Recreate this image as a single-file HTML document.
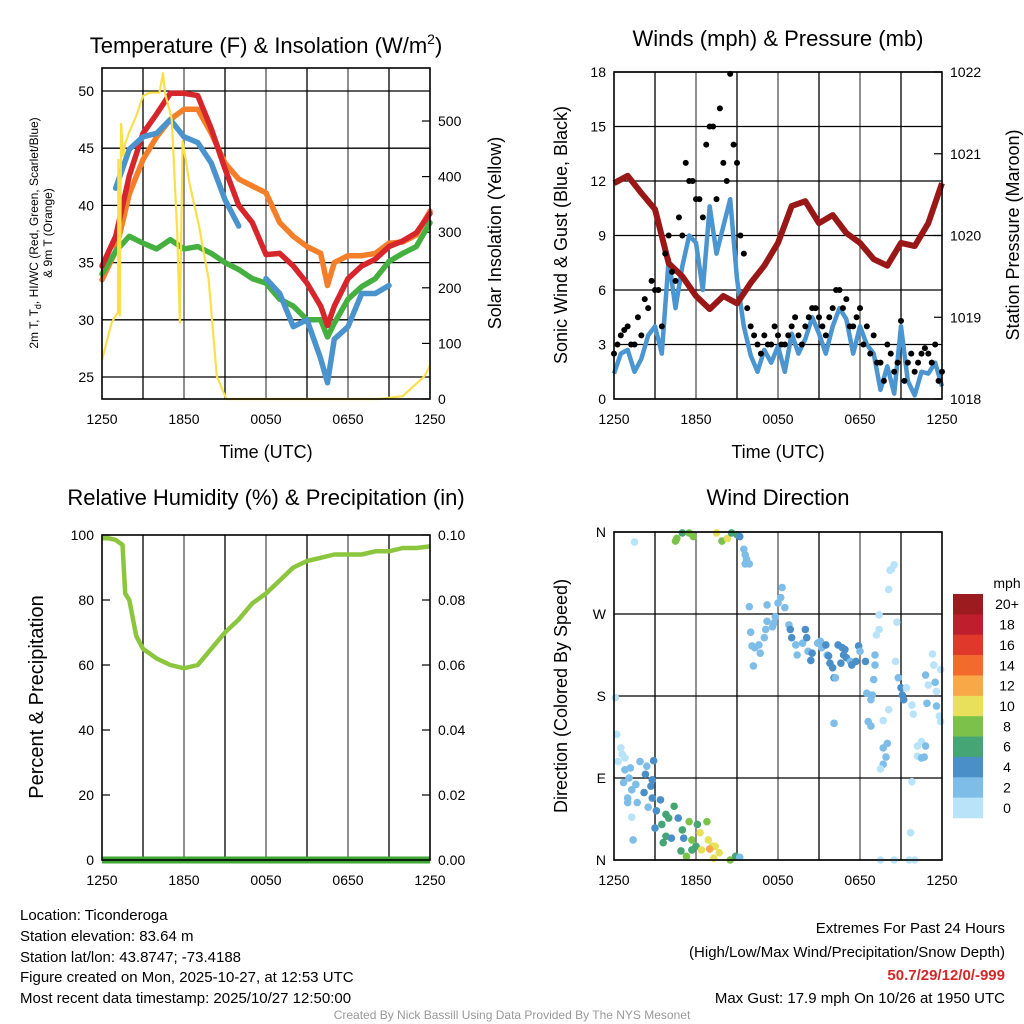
<!DOCTYPE html>
<html><head><meta charset="utf-8">
<style>
html,body{margin:0;padding:0;background:#fff;}
svg{display:block;font-family:"Liberation Sans",Arial,sans-serif;}
</style></head>
<body>
<svg id="root" width="1024" height="1024" viewBox="0 0 1024 1024" xmlns="http://www.w3.org/2000/svg">
  <rect width="1024" height="1024" fill="#fff"/>
  <text x="266" y="53" font-size="22" text-anchor="middle">Temperature (F) &amp; Insolation (W/m<tspan font-size="14" dy="-9">2</tspan><tspan dy="9">)</tspan></text>
  <text x="778" y="46" font-size="22" text-anchor="middle">Winds (mph) &amp; Pressure (mb)</text>
  <text x="266" y="505" font-size="22" text-anchor="middle">Relative Humidity (%) &amp; Precipitation (in)</text>
  <text x="778" y="505" font-size="22" text-anchor="middle">Wind Direction</text>
  <text x="266" y="458" font-size="18" text-anchor="middle">Time (UTC)</text>
  <text x="778" y="458" font-size="18" text-anchor="middle">Time (UTC)</text>
  <text transform="translate(38,233) rotate(-90)" font-size="12" text-anchor="middle">2m T, T<tspan font-size="9" dy="3">d</tspan><tspan dy="-3">, HI/WC (Red, Green, Scarlet/Blue)</tspan></text>
  <text transform="translate(52,233) rotate(-90)" font-size="12" text-anchor="middle">&amp; 9m T (Orange)</text>
  <text transform="translate(501,233) rotate(-90)" font-size="18" text-anchor="middle">Solar Insolation (Yellow)</text>
  <text transform="translate(567,235) rotate(-90)" font-size="18" text-anchor="middle">Sonic Wind &amp; Gust (Blue, Black)</text>
  <text transform="translate(1019,235) rotate(-90)" font-size="18" text-anchor="middle">Station Pressure (Maroon)</text>
  <text transform="translate(43,697) rotate(-90)" font-size="20" text-anchor="middle">Percent &amp; Precipitation</text>
  <text transform="translate(567,696) rotate(-90)" font-size="18" text-anchor="middle">Direction (Colored By Speed)</text>
  <g id="charts"></g>
  <g font-size="15">
    <text x="20" y="920">Location: Ticonderoga</text>
    <text x="20" y="941">Station elevation: 83.64 m</text>
    <text x="20" y="962">Station lat/lon: 43.8747; -73.4188</text>
    <text x="20" y="982">Figure created on Mon, 2025-10-27, at 12:53 UTC</text>
    <text x="20" y="1003">Most recent data timestamp: 2025/10/27 12:50:00</text>
  </g>
  <g font-size="15" text-anchor="end">
    <text x="1005" y="933">Extremes For Past 24 Hours</text>
    <text x="1005" y="957">(High/Low/Max Wind/Precipitation/Snow Depth)</text>
    <text x="1005" y="980" fill="#d62728" font-weight="bold">50.7/29/12/0/-999</text>
    <text x="1005" y="1003">Max Gust: 17.9 mph On 10/26 at 1950 UTC</text>
  </g>
  <text x="512" y="1019" font-size="12" fill="#999" text-anchor="middle">Created By Nick Bassill Using Data Provided By The NYS Mesonet</text>
</svg>
<script>
// ---------- data ----------
const tempHours = [0,1,2,3,4,5,6,7,8,9,10,11,12,13,14,15,16,16.5,17,18,19,20,21,22,23,24];
const tempRed = [34.7,37.3,42.6,46.3,48,49.8,49.8,49.6,46.7,43.2,40,38.5,35.7,35.8,34.7,33.2,31.2,29.5,31.2,33.6,34.7,35.3,36.4,36.9,37.6,39.3];
const temp9mOrange = [33.5,36,41,44,46,47.5,48.4,48.4,46.3,43.7,42.3,41.7,41.1,38.5,37.3,36.4,35.8,33,35,35.6,35.6,35.8,36.7,36.8,37.4,39.5];
const heatIndexBlue = [null,41.5,44.9,46,46.3,47.5,46,45.5,43.7,40.5,38.2,null,33.6,32.3,29.4,30,26.6,24.5,28.3,29.4,32.3,32.3,33,null,null,null];
const dewpointGreen = [34,36,37.3,36.7,36.2,37,36.2,36.4,35.8,35,34.4,33.6,33.2,31.8,31.2,30,30,28.5,29.7,31.8,32.9,33.6,35.1,35.8,36.4,38.5];
const solarHours = [0,0.7,1.0,1.17,1.2,1.3,1.4,1.55,1.7,2.0,2.5,3.0,3.5,4.2,4.46,4.6,5.1,5.5,5.7,5.9,6.4,7.1,7.8,8.4,9.1,20.25,22,23.6,24];
const solarValues = [70,137,150,155,430,150,495,437,460,480,509,545,551,551,586,551,504,300,137,464,388,311,216,41,0,0,5,41,60];

const windHours = [0,0.5,1,1.5,2,2.5,3,3.5,4,4.5,5,5.5,6,6.5,7,7.5,8,8.5,9,9.5,10,10.5,11,11.5,12,12.5,13,13.5,14,14.5,15,15.5,16,16.5,17,17.5,18,18.5,19,19.5,20,20.5,21,21.5,22,22.5,23,23.5,24];
const windSpeed = [1.4,2.5,2.7,1.5,2.2,3.5,4.0,2.5,7.7,5,7.3,9,8.6,6,10.6,8,9.5,11,6.6,4,2.4,1.5,2.7,2,2.9,1.5,3.6,2.5,3.3,4.5,3.6,2.5,4.0,5,4.4,2.5,4.0,3,2.5,0.5,1.8,0.3,4.0,1,0.2,1.5,1.4,2,0.7];
const gustA = [2.5,3.5,4,3,3.5,5,6,4,9,6.5,9,12,11,10,15,11,13,17.9,13,8,4,3,3.5,3,3.5,3,4,3.5,4,5,4.5,3.5,5,6,5.5,4,5,4,3.5,2,3,1.5,4.3,2,1.5,2.5,2.5,3,1.5];
const gustHoursB = [0.25,0.75,1.25,1.75,2.25,2.75,3.25,3.75,4.25,4.75,5.25,5.75,6.25,6.75,7.25,7.75,8.25,8.75,9.25,9.75,10.25,10.75,11.25,11.75,12.25,12.75,13.25,13.75,14.25,14.75,15.25,15.75,16.25,16.75,17.25,17.75,18.25,18.75,19.25,19.75,20.25,20.75,21.25,21.75,22.25,22.75,23.25,23.75];
const gustB = [3,3.8,3,4.5,5.5,6.5,6,8,7,10,13,12,11,14,15,16,12,14,9,5,3.5,2.5,3,4,3,3.5,4.5,3,4.5,5,4,4.5,6,5,4,4.5,3,2.5,2,1,2.5,2,1,2.5,2,2.8,2,1];
const pressureHours = [0,1,2,3,4,5,6,7,8,9,10,11,12,13,14,15,16,17,18,19,20,21,22,23,24];
const pressureMb = [1020.64,1020.73,1020.52,1020.32,1019.66,1019.5,1019.26,1019.1,1019.26,1019.17,1019.42,1019.63,1019.91,1020.36,1020.42,1020.15,1020.25,1020.03,1019.91,1019.71,1019.63,1019.91,1019.87,1020.15,1020.64];

const rhHours = [0,0.5,1,1.5,1.7,2,2.5,3,4,5,6,7,8,9,10,11,12,13,14,15,16,17,18,19,20,21,22,23,24];
const rhValues = [99,99,98.5,97,82,80,69,65,62,60,59,60,65,70,74,79,82,86,90,92,93,94,94,94,95,95,96,96,96.5];
const precipHours = [0,24];
const precipValues = [0,0];

const dirHours = [0.1,0.2,0.5,0.6,0.8,0.3,0.8,1.2,1.9,2.4,2.9,2.3,2.8,1.1,0.7,1.6,1.3,2.7,2.2,1.0,1.0,1.7,2.8,3.4,2.5,3.1,1.3,1.4,3.8,4.4,4.0,4.7,3.5,3.0,3.8,4.2,5.1,5.0,5.5,6.1,6.8,5.7,6.3,6.9,6.0,6.4,7.2,7.4,7.0,7.7,7.3,5.7,4.9,3.6,5.3,8.5,8.9,9.2,
1.5,4.5,4.6,5.0,5.5,5.8,7.5,7.9,8.3,8.6,9.0,9.2,9.5,9.6,9.7,9.6,9.9,
9.9,10.0,10.1,10.3,10.6,10.7,10.2,11.0,11.1,11.2,11.6,11.7,11.8,11.2,12.0,12.3,12.2,12.5,12.8,12.9,13.0,13.3,13.4,13.8,14.0,14.1,14.2,14.5,14.4,14.9,15.1,15.2,15.5,15.6,15.7,15.8,16.0,16.1,16.2,16.1,16.4,16.7,16.8,16.9,16.6,17.0,17.3,17.4,17.7,17.9,18.0,18.4,19.1,19.1,19.0,18.5,18.9,18.8,18.6,18.8,19.4,19.4,19.2,20.1,20.3,20.5,20.2,20.7,20.6,20.8,21.0,21.1,21.2,21.4,21.8,21.9,20.1,19.7,20.0,19.7,19.9,19.7,19.5,22.8,23.0,22.9,23.3,23.4,23.5,23.6,23.6,23.8,23.9,23.9,22.2,22.5,22.8,22.2,22.5,22.7,21.8,21.7,19.5,20.5,21.6,22.0];
const dirDegrees = [178,138,123,116,112,108,99,101,108,103,109,94,88,90,85,83,77,81,74,68,63,63,68,66,58,54,47,22,50,59,46,46,39,35,26,24,24,33,42,39,42,22,30,22,15,11,15,15,12,8,2,11,10,19,4,0,4,3,
349,350,353,359,359,355,359,350,353,359,357,355,341,335,330,325,325,
278,250,235,233,236,227,213,244,253,262,256,260,267,280,282,299,288,277,258,253,244,236,225,238,253,244,229,227,219,238,240,233,236,225,224,216,211,200,200,150,236,233,225,231,216,222,218,214,218,235,229,218,225,214,198,183,181,176,152,147,269,253,247,297,319,324,318,261,218,200,189,181,176,189,170,160,165,153,128,123,113,105,100,203,192,172,226,214,195,185,169,158,152,209,125,130,125,114,112,113,86,30,0,0,0,0];
const dirSpeeds = [1,1,0,0,1,0,2,2,2,2,4,4,4,2,2,2,2,4,4,2,2,2,4,4,2,5,1,2,7,7,6,5,6,4,6,4,4,6,8,6,8,8,10,10,7,10,10,11,13,10,10,6,6,6,8,8,6,2,
1,8,8,6,8,8,10,8,10,7,6,4,2,2,2,2,2,
2,2,2,2,2,2,2,3,2,2,2,2,2,2,2,2,2,2,2,4,4,2,2,2,4,4,2,4,4,2,2,2,4,2,4,4,4,4,2,2,4,4,4,4,4,4,2,4,4,4,2,4,2,2,2,2,2,2,2,2,1,1,1,1,0,0,0,1,1,3,4,4,4,1,1,1,1,1,2,2,2,2,1,2,1,2,1,1,3,1,2,1,1,1,1,1,3,1,2,2,1,1,1,1,1,1];
const speedLabels = ["20+","18","16","14","12","10","8","6","4","2","0"];
const speedColors = ["#9b1b1f","#bf1e2d","#e0392b","#f26a2c","#f9a847","#e8e05a","#7cc24a","#45a574","#4a8fc7","#7ebde8","#b9e3f8"];
const timeTickLabels = ["1250","1850","0050","0650","1250"];
const tempTicks = [25,30,35,40,45,50];
const solarTicks = [0,100,200,300,400,500];
const windTicks = [0,3,6,9,12,15,18];
const pressureTicks = [1018,1019,1020,1021,1022];
const rhTicks = [0,20,40,60,80,100];
const precipTicks = ["0.00","0.02","0.04","0.06","0.08","0.10"];
const dirTicks = ["N","E","S","W","N"];

// ---------- helpers ----------
const NS = "http://www.w3.org/2000/svg";
const root = document.getElementById('charts');
function mk(tag, attrs, parent) {
  const e = document.createElementNS(NS, tag);
  for (const k in attrs) e.setAttribute(k, attrs[k]);
  (parent || root).appendChild(e);
  return e;
}
function lin(d0, d1, r0, r1) { return v => r0 + (v - d0) * (r1 - r0) / (d1 - d0); }
function pathFrom(xs, ys, fx, fy) {
  let d = "", pen = false;
  for (let i = 0; i < xs.length; i++) {
    if (ys[i] === null || ys[i] === undefined) { pen = false; continue; }
    d += (pen ? "L" : "M") + fx(xs[i]).toFixed(1) + " " + fy(ys[i]).toFixed(1);
    pen = true;
  }
  return d;
}
function frame(p, name) {
  const g = mk('g', {});
  
  
  for (let h = 3; h < 24; h += 3) {
    const x = p.fx(h);
    const l = mk('line', {x1: x, x2: x, y1: p.y0, y2: p.y1, stroke: (h % 6 === 0) ? '#555' : '#000', 'stroke-width': 1.3}, g);
    
    
  }
  timeTickLabels.forEach((t, i) => {
    const x = p.fx(i * 6);
    const tx = mk('text', {x: x, y: p.y1 + 25, 'font-size': 14, 'text-anchor': 'middle'}, g);
    tx.textContent = t;
    
    
  });
  return g;
}
function hGrid(g, p, ys, fy, labels, side) {
  ys.forEach((v, i) => {
    const y = fy(v);
    const l = mk('line', {x1: p.x0, x2: p.x1, y1: y, y2: y, stroke: '#000', 'stroke-width': 1.3}, g);
    
    
    const tx = mk('text', {x: side === 'left' ? p.x0 - 8 : p.x1 + 8, y: y + 5, 'font-size': 14, 'text-anchor': side === 'left' ? 'end' : 'start'}, g);
    tx.textContent = labels[i];
    
    
  });
}
function ticksOnly(g, p, ys, fy, labels, side) {
  ys.forEach((v, i) => {
    const y = fy(v);
    const x = side === 'left' ? p.x0 : p.x1;
    mk('line', {x1: x, x2: side === 'left' ? x + 8 : x - 8, y1: y, y2: y, stroke: '#000', 'stroke-width': 1.2}, g);
    const tx = mk('text', {x: side === 'left' ? p.x0 - 8 : p.x1 + 8, y: y + 5, 'font-size': 14, 'text-anchor': side === 'left' ? 'end' : 'start'}, g);
    tx.textContent = labels[i];
    
    
  });
}
function border(p, name) {
  const r = mk('rect', {x: p.x0, y: p.y0, width: p.x1 - p.x0, height: p.y1 - p.y0, fill: 'none', stroke: '#000', 'stroke-width': 1.6});
  
  
}

// ---------- panel 1: temperature ----------
(function () {
  const p = {x0: 102, x1: 430, y0: 68, y1: 399};
  p.fx = lin(0, 24, p.x0, p.x1);
  const fT = lin(25, 50, 377, 91);
  const fS = lin(0, 500, 399, 121);
  const g = frame(p, 'temperature-panel');
  hGrid(g, p, tempTicks, fT, tempTicks, 'left');
  ticksOnly(g, p, solarTicks, fS, solarTicks, 'right');
  const series = [
    [temp9mOrange, '#f47f2a', 'orange-9m-temp-line'],
    [dewpointGreen, '#45b040', 'green-dewpoint-line'],
    [tempRed, '#d7262b', 'red-2m-temp-line'],
    [heatIndexBlue, '#4a93cc', 'blue-wind-chill-line']
  ];
  series.forEach(s => {
    const e = mk('path', {d: pathFrom(tempHours, s[0], p.fx, fT), fill: 'none', stroke: s[1], 'stroke-width': 5.5, 'stroke-linejoin': 'round', 'stroke-linecap': 'round'});
    
    
  });
  const sl = mk('path', {d: pathFrom(solarHours, solarValues, p.fx, fS), fill: 'none', stroke: '#f9e04b', 'stroke-width': 2.2, 'stroke-linejoin': 'round'});
  
  
  border(p, 'temperature-plot-frame');
})();

// ---------- panel 2: winds ----------
(function () {
  const p = {x0: 614, x1: 942, y0: 72, y1: 399};
  p.fx = lin(0, 24, p.x0, p.x1);
  const fW = lin(0, 18, 399, 72);
  const fP = lin(1018, 1022, 399, 72);
  const g = frame(p, 'winds-panel');
  hGrid(g, p, windTicks, fW, windTicks, 'left');
  ticksOnly(g, p, pressureTicks, fP, pressureTicks, 'right');
  const w = mk('path', {d: pathFrom(windHours, windSpeed, p.fx, fW), fill: 'none', stroke: '#4b95d0', 'stroke-width': 4.5, 'stroke-linejoin': 'round'});
  
  
  const pr = mk('path', {d: pathFrom(pressureHours, pressureMb, p.fx, fP), fill: 'none', stroke: '#9a1717', 'stroke-width': 6, 'stroke-linejoin': 'round'});
  
  
  windHours.forEach((h, i) => {
    const c = mk('circle', {cx: p.fx(h), cy: fW(gustA[i]), r: 3, fill: '#000'});
    
    
  });
  gustHoursB.forEach((h, i) => {
    const c = mk('circle', {cx: p.fx(h), cy: fW(gustB[i]), r: 3, fill: '#000'});
    
    
  });
  border(p, 'winds-plot-frame');
})();

// ---------- panel 3: humidity ----------
(function () {
  const p = {x0: 102, x1: 430, y0: 535, y1: 860};
  p.fx = lin(0, 24, p.x0, p.x1);
  const fR = lin(0, 100, 860, 535);
  const fPr = lin(0, 0.1, 860, 535);
  const g = frame(p, 'humidity-panel');
  ticksOnly(g, p, rhTicks, fR, rhTicks, 'left');
  ticksOnly(g, p, rhTicks, fR, precipTicks, 'right');
  const r = mk('path', {d: pathFrom(rhHours, rhValues, p.fx, fR), fill: 'none', stroke: '#8cc63f', 'stroke-width': 4.5, 'stroke-linejoin': 'round'});
  
  
  const pc = mk('path', {d: pathFrom(precipHours, precipValues, p.fx, fPr), fill: 'none', stroke: '#3fa535', 'stroke-width': 7});
  
  
  border(p, 'humidity-plot-frame');
})();

// ---------- panel 4: wind direction ----------
(function () {
  const p = {x0: 614, x1: 942, y0: 532, y1: 860};
  p.fx = lin(0, 24, p.x0, p.x1);
  const fD = lin(0, 360, 860, 532);
  const g = frame(p, 'wind-direction-panel');
  hGrid(g, p, [0, 90, 180, 270, 360], fD, dirTicks, 'left');
  dirHours.forEach((h, i) => {
    const bin = Math.min(10, Math.floor(dirSpeeds[i] / 2));
    const c = mk('circle', {cx: p.fx(h), cy: fD(dirDegrees[i]), r: 3.8, fill: speedColors[10 - bin]});
    
    
  });
  border(p, 'direction-plot-frame');
  const cb = mk('g', {});
  
  
  const t = mk('text', {x: 1007, y: 588, 'font-size': 14, 'text-anchor': 'middle'}, cb);
  t.textContent = 'mph';
  
  
  const bh = (818 - 594) / speedLabels.length;
  speedLabels.forEach((lab, i) => {
    const y = 594 + i * bh;
    const b = mk('rect', {x: 953, y: y, width: 30, height: bh + 0.3, fill: speedColors[i]}, cb);
    
    
    const tx = mk('text', {x: 1007, y: y + bh / 2 + 5, 'font-size': 14, 'text-anchor': 'middle'}, cb);
    tx.textContent = lab;
    
    
  });
})();
</script>
</body></html>
